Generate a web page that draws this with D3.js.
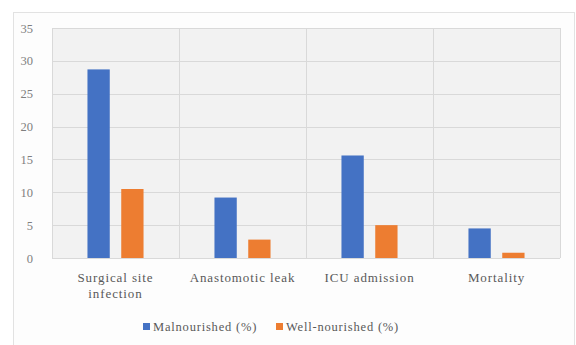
<!DOCTYPE html>
<html>
<head>
<meta charset="utf-8">
<script src="https://cdn.jsdelivr.net/npm/d3@7"></script>
<style>
  html, body { margin: 0; padding: 0; background: #ffffff; }
  svg { display: block; }
</style>
</head>
<body>
<svg id="chart" width="576" height="345"></svg>
<script>
// Outcome categories and percentages per nutritional group
const categories = [["Surgical site", "infection"], ["Anastomotic leak"], ["ICU admission"], ["Mortality"]];
const seriesNames = ["Malnourished (%)", "Well-nourished (%)"];
const malnourished = [28.7, 9.2, 15.6, 4.5];
const wellNourished = [10.5, 2.8, 5.0, 0.8];
const yTicks = [0, 5, 10, 15, 20, 25, 30, 35];
const colors = ["#4472C4", "#ED7D31"];

const FONT = "'Liberation Serif', 'Times New Roman', serif";

const svg = d3.select("#chart");
const plot = { left: 52, right: 560, top: 28, bottom: 258 };

// Chart frame
svg.append("rect")
  .attr("x", 13.5).attr("y", 12.5)
  .attr("width", 561).attr("height", 340)
  .attr("fill", "#fdfdfd").attr("stroke", "#e2e2e2");

// Plot background
svg.append("rect")
  .attr("x", plot.left).attr("y", plot.top)
  .attr("width", plot.right - plot.left).attr("height", plot.bottom - plot.top)
  .attr("fill", "#f2f2f2");

const x0 = d3.scaleBand()
  .domain(d3.range(categories.length))
  .range([plot.left, plot.right])
  .paddingInner(0).paddingOuter(0);

const y = d3.scaleLinear().domain([0, 35]).range([plot.bottom, plot.top]);

// Horizontal gridlines
svg.append("g")
  .selectAll("line")
  .data(yTicks)
  .join("line")
  .attr("x1", plot.left).attr("x2", plot.right)
  .attr("y1", d => Math.round(y(d)) + 0.5).attr("y2", d => Math.round(y(d)) + 0.5)
  .attr("stroke", "#d9d9d9").attr("stroke-width", 1);

// Vertical category separators
svg.append("g")
  .selectAll("line")
  .data(d3.range(categories.length + 1))
  .join("line")
  .attr("x1", i => Math.round(plot.left + i * x0.bandwidth()) + 0.5)
  .attr("x2", i => Math.round(plot.left + i * x0.bandwidth()) + 0.5)
  .attr("y1", plot.top).attr("y2", plot.bottom)
  .attr("stroke", "#d9d9d9").attr("stroke-width", 1);

// Y axis labels
const yAxis = d3.axisLeft(y).tickValues(yTicks).tickSize(0).tickPadding(0);
const gy = svg.append("g")
  .attr("transform", `translate(${plot.left - 19},0)`)
  .call(yAxis);
gy.select(".domain").remove();
gy.selectAll("text")
  .attr("fill", "#7f7f7f")
  .style("font-family", FONT)
  .style("font-size", "12.5px");

// Grouped bars
const x1 = d3.scaleBand().domain([0, 1]).range([0, x0.bandwidth()]).paddingInner(0.34).paddingOuter(1.05);
const series = [malnourished, wellNourished];

series.forEach((vals, s) => {
  svg.append("g")
    .selectAll("rect")
    .data(vals)
    .join("rect")
    .attr("x", (d, i) => x0(i) + x1(s))
    .attr("width", x1.bandwidth())
    .attr("y", d => y(d))
    .attr("height", d => y(0) - y(d))
    .attr("fill", colors[s]);
});

// Category labels
const xl = svg.append("g");
categories.forEach((lines, i) => {
  const cx = x0(i) + x0.bandwidth() / 2;
  const t = xl.append("text")
    .attr("x", cx)
    .attr("y", 282)
    .attr("text-anchor", "middle")
    .attr("fill", "#595959")
    .style("font-family", FONT)
    .style("font-size", "13px")
    .style("letter-spacing", "0.9px");
  lines.forEach((ln, k) => {
    t.append("tspan").attr("x", cx).attr("dy", k === 0 ? 0 : 16).text(ln);
  });
});

// Legend
const legendItems = [
  { name: seriesNames[0], color: colors[0], x: 143 },
  { name: seriesNames[1], color: colors[1], x: 276 }
];
const lg = svg.append("g");
legendItems.forEach(it => {
  lg.append("rect").attr("x", it.x).attr("y", 323).attr("width", 7).attr("height", 7).attr("fill", it.color);
  lg.append("text")
    .attr("x", it.x + 10).attr("y", 331)
    .attr("fill", "#595959")
    .style("font-family", FONT)
    .style("font-size", "12.5px")
    .style("letter-spacing", "0.8px")
    .text(it.name);
});
</script>
</body>
</html>
